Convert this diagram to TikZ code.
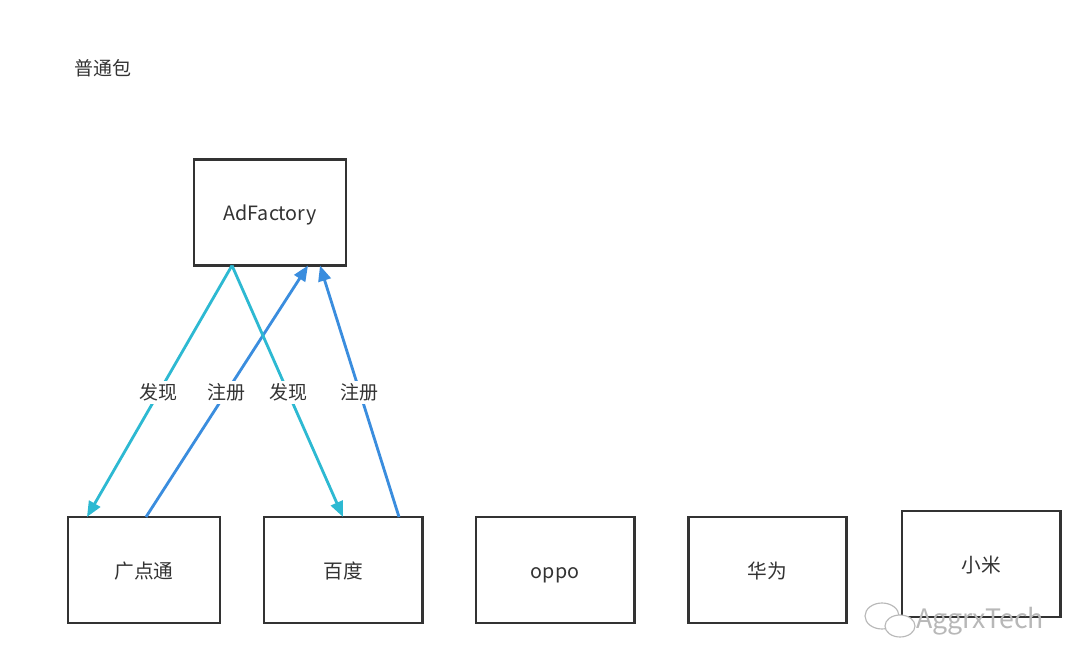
\documentclass[tikz,border=0pt]{standalone}
\usepackage{fontspec}
\setmainfont{Noto Sans CJK SC}
\usepackage{xcolor}
\usetikzlibrary{arrows.meta, calc}

\definecolor{findcyan}{HTML}{2DB9D2}
\definecolor{regblue}{HTML}{3A8DDE}
\definecolor{boxgray}{HTML}{333333}
\definecolor{markgray}{HTML}{B8B8B8}

\begin{document}
\begin{tikzpicture}[x=0.025cm, y=-0.025cm, >={Triangle[length=11pt, width=9pt]},
    adbox/.style={draw=boxgray, line width=2.1pt, outer sep=0pt, minimum height=2.65cm,
        text=boxgray, text height=12pt, text depth=0.5pt, font=\fontsize{14}{16}\selectfont},
    findline/.style={->, findcyan, line width=2pt},
    regline/.style={->, regblue, line width=2pt},
    tag/.style={fill=white, text=boxgray, inner sep=2pt, font=\fontsize{13.5}{16}\selectfont}]

    \useasboundingbox[fill=white] (0,0) rectangle (1080,670);

    % ==========================================
    % Title
    % ==========================================
    \node[text=boxgray, font=\fontsize{13.5}{16}\selectfont] (title) at (103,68) {普通包};

    % ==========================================
    % Factory (top)
    % ==========================================
    \node[adbox, minimum width=3.8cm] (factory) at (270,212.5) {AdFactory};

    % ==========================================
    % Ad platforms (bottom row)
    % ==========================================
    \node[adbox, minimum width=3.8cm] (gdt) at (144,570) {广点通};
    \node[adbox, minimum width=3.95cm] (baidu) at (343,570) {百度};
    \node[adbox, minimum width=3.95cm] (oppo) at (555,570) {oppo};
    \node[adbox, minimum width=3.95cm] (huawei) at (767.5,570) {华为};
    \node[adbox, minimum width=3.95cm] (xiaomi) at (981,564) {小米};

    % ==========================================
    % Discover / register arrows
    % ==========================================
    \coordinate (fac out) at ($(factory.south)+(-38,0)$);
    \coordinate (fac in1) at ($(factory.south)+(38,0)$);
    \coordinate (fac in2) at ($(factory.south)+(50,0)$);

    \draw[findline] (fac out) -- ($(gdt.north)+(-57,0)$) node[tag, pos=0.506] {发现};
    \draw[regline] ($(gdt.north)+(2,0)$) -- (fac in1) node[tag, pos=0.494] {注册};
    \draw[findline] (fac out) -- (baidu.north) node[tag, pos=0.506] {发现};
    \draw[regline] ($(baidu.north)+(56,0)$) -- (fac in2) node[tag, pos=0.494] {注册};

    % Watermark
    \node[text=markgray, font=\fontsize{19}{22}\selectfont] (mark) at (980,621) {AggrxTech};
    \draw[markgray, line width=0.8pt] (882,616) ellipse (17 and 13);
    \draw[markgray, line width=0.8pt, fill=white] (900,626) ellipse (15 and 11);

\end{tikzpicture}
\end{document}
